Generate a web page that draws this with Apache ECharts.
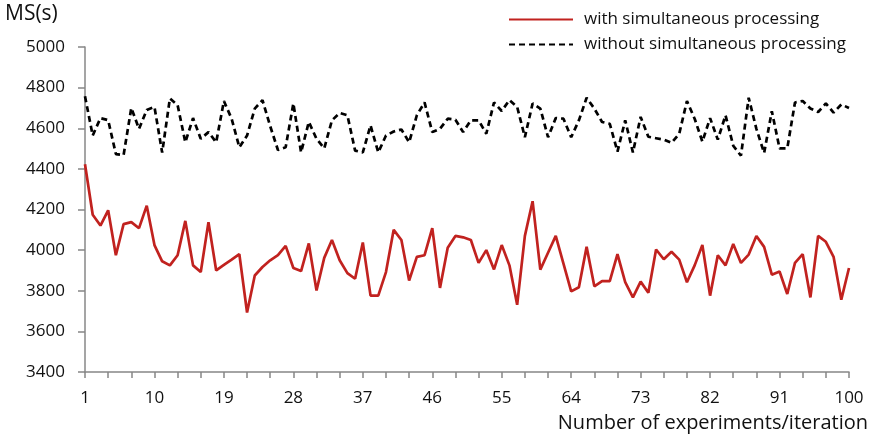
<!DOCTYPE html>
<html>
<head>
<meta charset="utf-8">
<script src="https://cdn.jsdelivr.net/npm/echarts@6/dist/echarts.min.js"></script>
<style>
  html, body { margin: 0; padding: 0; background: #fff; }
  #chart { width: 880px; height: 441px; }
</style>
</head>
<body>
<div id="chart"></div>
<script>
// 横轴：实验次数 1..100
const iterations = [
  1, 2, 3, 4, 5, 6, 7, 8, 9, 10, 11, 12, 13, 14, 15, 16, 17, 18, 19, 20,
  21, 22, 23, 24, 25, 26, 27, 28, 29, 30, 31, 32, 33, 34, 35, 36, 37, 38, 39, 40,
  41, 42, 43, 44, 45, 46, 47, 48, 49, 50, 51, 52, 53, 54, 55, 56, 57, 58, 59, 60,
  61, 62, 63, 64, 65, 66, 67, 68, 69, 70, 71, 72, 73, 74, 75, 76, 77, 78, 79, 80,
  81, 82, 83, 84, 85, 86, 87, 88, 89, 90, 91, 92, 93, 94, 95, 96, 97, 98, 99, 100
];

// with simultaneous processing
const withSimultaneous = [
  4423, 4174, 4121, 4196, 3975, 4128, 4138, 4108, 4219, 4025,
  3945, 3925, 3975, 4144, 3925, 3892, 4138, 3900, 3927, 3953,
  3980, 3693, 3875, 3917, 3950, 3975, 4021, 3912, 3897, 4033,
  3801, 3962, 4050, 3950, 3887, 3859, 4038, 3776, 3776, 3892,
  4100, 4050, 3850, 3967, 3975, 4108, 3814, 4012, 4070, 4063,
  4050, 3937, 4000, 3905, 4025, 3925, 3731, 4070, 4241, 3904,
  3987, 4070, 3933, 3797, 3817, 4016, 3822, 3847, 3847, 3980,
  3842, 3767, 3845, 3790, 4003, 3955, 3992, 3953, 3842, 3925,
  4025, 3776, 3975, 3925, 4030, 3937, 3978, 4070, 4016, 3879,
  3895, 3784, 3937, 3980, 3767, 4070, 4041, 3967, 3756, 3912
];

// without simultaneous processing
const withoutSimultaneous = [
  4757, 4564, 4650, 4640, 4473, 4468, 4700, 4597, 4690, 4705,
  4480, 4747, 4714, 4531, 4650, 4548, 4581, 4531, 4734, 4647,
  4506, 4564, 4697, 4738, 4610, 4493, 4506, 4722, 4481, 4631,
  4548, 4501, 4639, 4675, 4664, 4490, 4481, 4614, 4481, 4564,
  4584, 4594, 4531, 4664, 4727, 4581, 4597, 4647, 4642, 4581,
  4639, 4639, 4573, 4727, 4685, 4739, 4705, 4556, 4722, 4697,
  4556, 4650, 4647, 4556, 4639, 4750, 4697, 4631, 4622, 4485,
  4639, 4481, 4656, 4558, 4551, 4544, 4528, 4573, 4734, 4647,
  4534, 4650, 4544, 4664, 4514, 4465, 4750, 4597, 4478, 4684,
  4501, 4501, 4727, 4734, 4697, 4680, 4722, 4677, 4717, 4700
];

const chart = echarts.init(document.getElementById('chart'));
const axisGray = '#878787';
const font = '"Open Sans", sans-serif';

const option = {
  animation: false,
  textStyle: { fontFamily: font },
  grid: { left: 85, right: 31, top: 47, bottom: 69 },
  legend: {
    orient: 'vertical',
    left: 508,
    top: 11,
    padding: 0,
    itemWidth: 64,
    itemHeight: 14,
    itemGap: 8,
    itemStyle: { opacity: 0 },
    textStyle: { fontSize: 17, lineHeight: 17, color: '#111', fontFamily: font, padding: [0, 0, 0, 6] },
    data: ['with simultaneous processing', 'without simultaneous processing']
  },
  xAxis: {
    type: 'category',
    data: iterations,
    boundaryGap: false,
    axisLine: { lineStyle: { color: axisGray, width: 1.5 } },
    axisTick: { alignWithLabel: true, length: 6, lineStyle: { color: axisGray, width: 1.5 }, interval: (i) => i % 3 === 0 },
    axisLabel: { interval: (i) => i % 9 === 0, margin: 18, fontSize: 17, color: '#111', fontFamily: font },
    splitLine: { show: false }
  },
  yAxis: {
    type: 'value',
    min: 3400,
    max: 5000,
    interval: 200,
    axisLine: { show: true, lineStyle: { color: axisGray, width: 1.5 } },
    axisTick: { show: true, length: 7, lineStyle: { color: axisGray, width: 1.5 } },
    axisLabel: { margin: 20, fontSize: 17, color: '#111', fontFamily: font, formatter: (v) => String(v) },
    splitLine: { show: false }
  },
  graphic: [
    {
      type: 'text',
      x: 5,
      y: 14,
      style: { text: 'MS(s)', fontSize: 21, fill: '#111', fontFamily: font, verticalAlign: 'middle' }
    },
    {
      type: 'text',
      x: 868,
      y: 423,
      style: { text: 'Number of experiments/iteration', fontSize: 20, fill: '#111', fontFamily: font, align: 'right', verticalAlign: 'middle' }
    }
  ],
  series: [
    {
      name: 'with simultaneous processing',
      type: 'line',
      data: withSimultaneous,
      symbol: 'none',
      lineStyle: { color: '#c1221f', width: 2.7 },
      itemStyle: { color: '#c1221f' }
    },
    {
      name: 'without simultaneous processing',
      type: 'line',
      data: withoutSimultaneous,
      symbol: 'none',
      lineStyle: { color: '#000', width: 2.7, type: [6, 4] },
      itemStyle: { color: '#000' }
    }
  ]
};

chart.setOption(option);
window.addEventListener('resize', () => chart.resize());
</script>
</body>
</html>
